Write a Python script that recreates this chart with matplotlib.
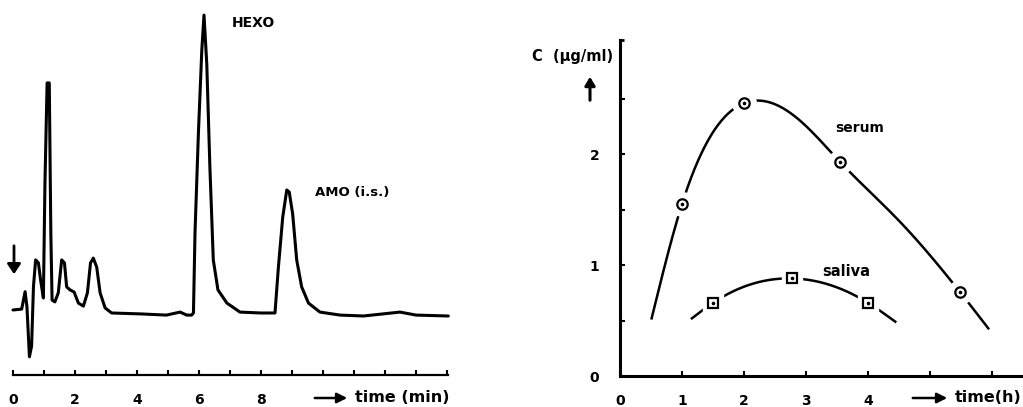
import numpy as np
import matplotlib
matplotlib.use("Agg")
import matplotlib.pyplot as plt

plt.rcParams["font.family"] = ["DejaVu Sans"]
plt.rcParams["font.weight"] = "bold"

# ---- chromatogram trace (time in min, detector signal in arbitrary units) ----
chrom_t = [0.00, 0.28, 0.39, 0.45, 0.53, 0.60, 0.66, 0.73, 0.82, 0.89, 0.98,
           1.03, 1.10, 1.17, 1.22, 1.26, 1.35, 1.46, 1.57, 1.66, 1.73, 1.84,
           1.97, 2.11, 2.27, 2.40, 2.50, 2.59, 2.70, 2.81, 2.97, 3.18, 4.10,
           4.95, 5.39, 5.60, 5.76, 5.82, 5.87, 5.98, 6.09, 6.16, 6.25, 6.35,
           6.46, 6.61, 6.90, 7.32, 8.00, 8.45, 8.56, 8.70, 8.83, 8.91, 9.02,
           9.15, 9.31, 9.53, 9.90, 10.55, 11.30, 12.48, 13.00, 14.04]
chrom_s = [1.0, 1.3, 7.1, 2.0, -14.6, -11.0, 8.8, 17.7, 16.7, 11.0, 5.0,
           43.0, 76.7, 76.7, 26.7, 4.3, 3.7, 6.7, 17.7, 16.7, 8.7, 7.7,
           7.0, 3.3, 2.3, 6.7, 16.7, 18.3, 15.3, 6.7, 1.7, 0.0, -0.3,
           -0.7, 0.3, -0.7, -0.7, 0.0, 26.7, 60.0, 87.7, 99.3, 83.0, 48.7,
           17.7, 7.7, 3.3, 0.3, 0.0, 0.0, 15.3, 32.0, 41.0, 40.3, 33.0,
           17.7, 8.7, 3.3, 0.3, -0.7, -1.0, 0.3, -0.7, -1.0]
chrom_ticks = list(range(0, 15))
chrom_labels = ["0", "", "2", "", "4", "", "6", "", "8", "", "", "", "", "", ""]

# ---- concentration vs. time (h, µg/ml) ----
serum_t = [1.0, 2.0, 3.55, 5.48]
serum_c = [1.55, 2.46, 1.93, 0.76]
saliva_t = [1.5, 2.77, 4.0]
saliva_c = [0.66, 0.88, 0.66]

# hand-drawn fit curves through the measurements
serum_curve_t = [0.51, 1.0, 2.0, 2.95, 3.55, 4.5, 5.48, 5.94]
serum_curve_c = [0.52, 1.55, 2.46, 2.28, 1.93, 1.40, 0.76, 0.43]
saliva_curve_t = [1.16, 1.5, 2.77, 4.0, 4.44]
saliva_curve_c = [0.52, 0.66, 0.88, 0.66, 0.49]

conc_xticks = [0, 1, 2, 3, 4, 5, 6]
conc_xlabels = ["0", "1", "2", "3", "4", "", ""]
conc_yticks = [0, 0.5, 1, 1.5, 2, 2.5]
conc_ylabels = ["0", "", "1", "", "2", ""]


def natural_spline(x, y, num=300):
    x = np.asarray(x, float)
    y = np.asarray(y, float)
    n = len(x)
    h = np.diff(x)
    A = np.zeros((n, n))
    b = np.zeros(n)
    A[0, 0] = A[-1, -1] = 1.0
    for i in range(1, n - 1):
        A[i, i - 1] = h[i - 1]
        A[i, i] = 2 * (h[i - 1] + h[i])
        A[i, i + 1] = h[i]
        b[i] = 6 * ((y[i + 1] - y[i]) / h[i] - (y[i] - y[i - 1]) / h[i - 1])
    M = np.linalg.solve(A, b)
    xs = np.linspace(x[0], x[-1], num)
    idx = np.clip(np.searchsorted(x, xs) - 1, 0, n - 2)
    x0, x1 = x[idx], x[idx + 1]
    hh = x1 - x0
    ys = (M[idx] * (x1 - xs) ** 3 / (6 * hh) + M[idx + 1] * (xs - x0) ** 3 / (6 * hh)
          + (y[idx] / hh - M[idx] * hh / 6) * (x1 - xs)
          + (y[idx + 1] / hh - M[idx + 1] * hh / 6) * (xs - x0))
    return xs, ys


W, H = 1023, 407
fig = plt.figure(figsize=(W / 100, H / 100), dpi=100)
fig.patch.set_facecolor("white")

# ---------------- chromatogram ----------------
ax1 = fig.add_axes([13 / W, (H - 375) / H, (448 - 13) / W, 365 / H])
ax1.set_xlim(0, 14.03)
ax1.set_ylim(-20.67, 101)
ax1.plot(chrom_t, chrom_s, color="black", lw=2.2, solid_joinstyle="round",
         solid_capstyle="round", clip_on=False)
for side in ("top", "right", "left"):
    ax1.spines[side].set_visible(False)
ax1.spines["bottom"].set_linewidth(1.6)
ax1.set_yticks([])
ax1.set_xticks(chrom_ticks)
ax1.set_xticklabels(chrom_labels)
ax1.tick_params(axis="x", direction="in", length=3.5, width=1.5, pad=13,
                labelsize=10)
ax1.text(7.06, 96.5, "HEXO", fontsize=10, fontweight="bold", va="center")
ax1.text(9.75, 40, "AMO (i.s.)", fontsize=9.5, fontweight="bold", va="center")

# injection arrow
fig.patches.append(matplotlib.patches.FancyArrowPatch(
    (14 / W, (H - 243) / H), (14 / W, (H - 277) / H), transform=fig.transFigure,
    arrowstyle="-|>,head_length=6,head_width=4", lw=2, color="black"))

# time axis caption, chromatogram
fig.patches.append(matplotlib.patches.FancyArrowPatch(
    (312 / W, (H - 398) / H), (350 / W, (H - 398) / H), transform=fig.transFigure,
    arrowstyle="-|>,head_length=6,head_width=3", lw=1.8, color="black"))
fig.text(355 / W, (H - 398) / H, "time (min)", fontsize=11.5, fontweight="bold",
         va="center", ha="left")

# ---------------- concentration curves ----------------
ax2 = fig.add_axes([620 / W, (H - 376) / H, 403 / W, 336 / H])
ax2.set_xlim(0, 6.5)
ax2.set_ylim(0, 3.03)
for side in ("top", "right"):
    ax2.spines[side].set_visible(False)
for side in ("left", "bottom"):
    ax2.spines[side].set_linewidth(2.2)
ax2.set_xticks(conc_xticks)
ax2.set_xticklabels(conc_xlabels)
ax2.set_yticks(conc_yticks)
ax2.set_yticklabels(conc_ylabels)
ax2.tick_params(axis="x", direction="in", length=3.5, width=1.5, pad=13,
                labelsize=10)
ax2.tick_params(axis="y", direction="in", length=3.5, width=1.5, pad=15,
                labelsize=10)
ax2.plot([0, 0.07], [3.03, 3.03], color="black", lw=2.0, clip_on=False,
         solid_capstyle="butt")

sx, sy = natural_spline(serum_curve_t, serum_curve_c)
ax2.plot(sx, sy, color="black", lw=1.8, clip_on=False, zorder=2)
lx, ly = natural_spline(saliva_curve_t, saliva_curve_c)
ax2.plot(lx, ly, color="black", lw=1.8, clip_on=False, zorder=2)

# white clearing around each measurement point, then the marker itself
ax2.plot(serum_t, serum_c, "o", ms=17, mfc="white", mec="white", zorder=3)
ax2.plot(saliva_t, saliva_c, "s", ms=15, mfc="white", mec="white", zorder=3)
ax2.plot(serum_t, serum_c, "o", ms=7.5, mfc="white", mec="black", mew=1.6,
         zorder=4)
ax2.plot(saliva_t, saliva_c, "s", ms=7, mfc="white", mec="black", mew=1.6,
         zorder=4)
ax2.plot(serum_t + saliva_t, serum_c + saliva_c, "o", ms=1.6, color="black",
         zorder=5)

ax2.text(3.47, 2.24, "serum", fontsize=10, fontweight="bold", va="center")
ax2.text(3.27, 0.94, "saliva", fontsize=10.5, fontweight="bold", va="center")

fig.text(613 / W, (H - 56) / H, "C  (µg/ml)", fontsize=10.5, fontweight="bold",
         ha="right", va="center")
fig.patches.append(matplotlib.patches.FancyArrowPatch(
    (590 / W, (H - 103) / H), (590 / W, (H - 74) / H), transform=fig.transFigure,
    arrowstyle="-|>,head_length=5,head_width=3", lw=2.2, color="black"))

fig.patches.append(matplotlib.patches.FancyArrowPatch(
    (910 / W, (H - 398) / H), (950 / W, (H - 398) / H), transform=fig.transFigure,
    arrowstyle="-|>,head_length=6,head_width=3", lw=1.8, color="black"))
fig.text(955 / W, (H - 398) / H, "time(h)", fontsize=11.5, fontweight="bold",
         va="center", ha="left")

fig.savefig("out.png", dpi=100, facecolor="white")
